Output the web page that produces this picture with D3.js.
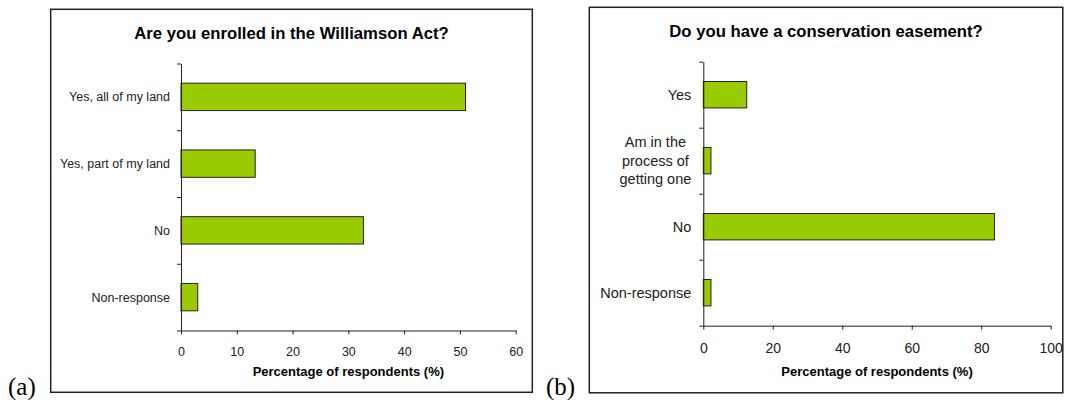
<!DOCTYPE html>
<html>
<head>
<meta charset="utf-8">
<script src="https://cdn.jsdelivr.net/npm/d3@7"></script>
<style>
  html, body { margin: 0; padding: 0; background: #fff; }
  svg { display: block; }
  .sans { font-family: Arial, "Liberation Sans", sans-serif; }
</style>
</head>
<body>
<svg id="chart" width="1065" height="400"></svg>
<script>
// Panel (a): Williamson Act enrollment
const williamsonCategories = ["Yes, all of my land", "Yes, part of my land", "No", "Non-response"];
const williamsonValues = [51.0, 13.3, 32.7, 3.0];
const williamsonTicks = [0, 10, 20, 30, 40, 50, 60];

// Panel (b): conservation easements
const easementCategories = ["Yes", "Am in the\nprocess of\ngetting one", "No", "Non-response"];
const easementValues = [12.5, 2.2, 83.8, 2.2];
const easementTicks = [0, 20, 40, 60, 80, 100];

const xLabel = "Percentage of respondents (%)";

const svg = d3.select("#chart");
const barFill = "#99cc00";
const ink = "#222";

function drawPanel(cfg) {
  const g = svg.append("g").attr("class", "sans");

  // frame
  g.append("rect")
    .attr("x", cfg.box[0]).attr("y", cfg.box[1])
    .attr("width", cfg.box[2]).attr("height", cfg.box[3])
    .attr("fill", "none").attr("stroke", ink).attr("stroke-width", 1.5);

  // panel letter
  svg.append("text")
    .attr("x", cfg.letterX).attr("y", 395)
    .attr("font-family", "'Times New Roman', 'Liberation Serif', serif")
    .attr("font-size", 25).attr("fill", "#000")
    .text(cfg.letter);

  // title
  g.append("text")
    .attr("x", cfg.box[0] + cfg.box[2] / 2).attr("y", cfg.titleY)
    .attr("text-anchor", "middle")
    .attr("font-weight", "bold").attr("font-size", cfg.titleSize)
    .attr("fill", "#000")
    .text(cfg.title);

  const x = d3.scaleLinear().domain(cfg.xDomain).range(cfg.xRange);
  const y = d3.scaleBand().domain(cfg.categories).range(cfg.yRange)
    .paddingInner(cfg.pad).paddingOuter(cfg.pad / 2);
  const yEdges = d3.scaleLinear().domain([0, cfg.categories.length]).range(cfg.yRange);

  // bars
  g.selectAll("rect.bar")
    .data(cfg.values)
    .join("rect")
    .attr("class", "bar")
    .attr("x", x(0))
    .attr("y", (d, i) => y(cfg.categories[i]))
    .attr("width", d => x(d) - x(0))
    .attr("height", y.bandwidth())
    .attr("fill", barFill)
    .attr("stroke", ink).attr("stroke-width", 1);

  // y axis with ticks at category boundaries
  const yAxis = g.append("g")
    .attr("transform", `translate(${x(0)},0)`)
    .call(d3.axisLeft(yEdges).tickValues(d3.range(cfg.categories.length + 1))
      .tickFormat("").tickSize(4).tickSizeOuter(0));
  yAxis.select(".domain").attr("stroke", ink);
  yAxis.selectAll(".tick line").attr("stroke", ink);

  // category labels
  const labels = g.append("g");
  cfg.categories.forEach(cat => {
    const lines = cat.split("\n");
    const cy = y(cat) + y.bandwidth() / 2;
    const lh = cfg.lineHeight;
    const t = labels.append("text")
      .attr("font-size", cfg.catSize).attr("fill", ink);
    lines.forEach((ln, k) => {
      t.append("tspan")
        .attr("y", cy + (k - (lines.length - 1) / 2) * lh)
        .attr("dy", "0.35em")
        .text(ln);
    });
    if (lines.length === 1) {
      t.attr("text-anchor", "end");
      t.selectAll("tspan").attr("x", x(0) - cfg.labelGap);
    } else {
      const w = d3.max(t.selectAll("tspan").nodes(), n => n.getComputedTextLength());
      t.attr("text-anchor", "middle");
      t.selectAll("tspan").attr("x", x(0) - cfg.labelGap - w / 2);
    }
  });

  // x axis
  const xAxis = g.append("g")
    .attr("transform", `translate(0,${cfg.yRange[1]})`)
    .call(d3.axisBottom(x).tickValues(cfg.ticks).tickFormat(d3.format("d"))
      .tickSize(4).tickSizeOuter(0).tickPadding(cfg.tickPad));
  xAxis.select(".domain").attr("stroke", ink);
  xAxis.selectAll(".tick line").attr("stroke", ink);
  xAxis.selectAll(".tick text")
    .attr("font-family", "Arial, 'Liberation Sans', sans-serif")
    .attr("font-size", cfg.tickSize).attr("fill", ink);

  // x axis title
  g.append("text")
    .attr("x", (cfg.xRange[0] + cfg.xRange[1]) / 2).attr("y", 376)
    .attr("text-anchor", "middle")
    .attr("font-weight", "bold").attr("font-size", cfg.axisTitleSize)
    .attr("fill", "#000")
    .text(xLabel);
}

drawPanel({
  box: [50.7, 9.3, 481.6, 383],
  letter: "(a)", letterX: 8,
  title: "Are you enrolled in the Williamson Act?", titleY: 39, titleSize: 16.7,
  categories: williamsonCategories, values: williamsonValues, ticks: williamsonTicks,
  xDomain: [0, 60], xRange: [181, 515.7], yRange: [63.5, 330.5], pad: 0.59,
  catSize: 12.5, lineHeight: 16, labelGap: 11, tickSize: 12.5, tickPad: 12.5, axisTitleSize: 13
});

drawPanel({
  box: [589.3, 7.3, 473.5, 385.5],
  letter: "(b)", letterX: 546,
  title: "Do you have a conservation easement?", titleY: 36.5, titleSize: 16.7,
  categories: easementCategories, values: easementValues, ticks: easementTicks,
  xDomain: [0, 100], xRange: [703.3, 1050.7], yRange: [61.7, 325.7], pad: 0.6,
  catSize: 14.5, lineHeight: 18.3, labelGap: 12, tickSize: 14, tickPad: 13, axisTitleSize: 13
});
</script>
</body>
</html>
